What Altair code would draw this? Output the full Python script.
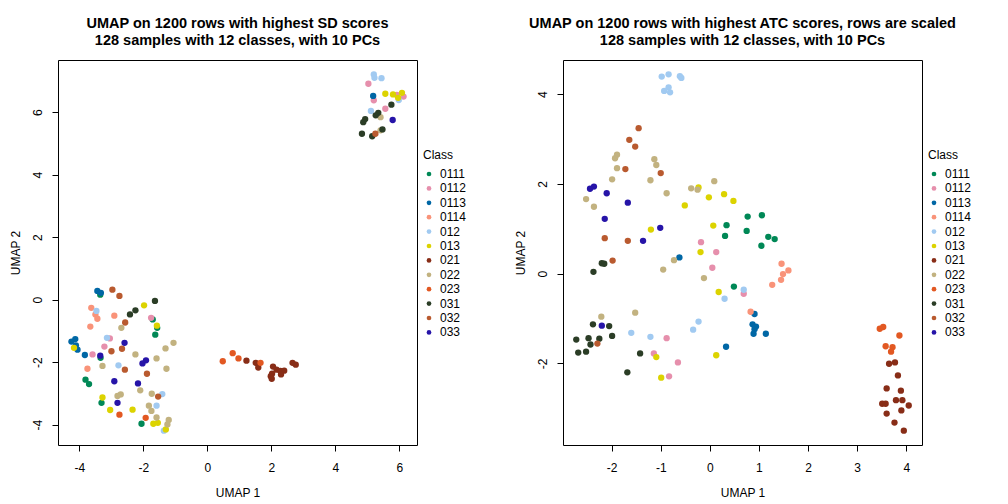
import altair as alt
import pandas as pd

CLASSES = ["0111", "0112", "0113", "0114", "012", "013", "021", "022", "023", "031", "032", "033"]
COLORS = ["#008856", "#E68FAC", "#0067A5", "#F99379", "#A1CAF1", "#DCD300",
          "#882D17", "#C2B280", "#E25822", "#2B3D26", "#B95A2F", "#2614A8"]

# UMAP on SD rows (left panel): class -> list of (UMAP1, UMAP2)
SD_POINTS = {
    "0111": [(-3.35, 0.16), (-1.71, -0.63), (-1.57, -0.90), (-1.63, -1.12), (-3.34, -1.86),
             (-3.81, -2.56), (-3.70, -2.70), (-3.31, -3.30), (-2.06, -3.97)],
    "0112": [(-1.76, -0.58), (-3.05, -1.24), (-3.22, -1.50), (-3.59, -1.75), (5.03, 6.91),
             (5.20, 6.38), (5.92, 6.55), (6.13, 6.50), (5.56, 6.11)],
    "0113": [(-3.44, 0.28), (-3.33, 0.22), (-4.25, -1.34), (-4.13, -1.26), (-4.11, -1.46),
             (-4.06, -1.60), (-3.83, -1.77), (5.18, 6.52)],
    "0114": [(-3.63, -0.26), (-3.50, -0.47), (-3.44, -0.61), (-2.91, -0.51), (-3.66, -0.86),
             (-3.75, -2.21)],
    "012": [(-3.47, -0.36), (-3.14, -1.22), (-2.78, -2.10), (-1.41, -3.02), (-1.59, -3.39),
            (-1.36, -4.19), (5.20, 7.21), (5.22, 7.10), (5.44, 7.09), (5.98, 6.39), (5.11, 6.04)],
    "013": [(-1.98, -0.18), (-1.58, -0.83), (-4.17, -1.54), (-3.28, -3.13), (-3.04, -3.53),
            (-2.34, -3.52), (-1.69, -3.97), (-1.55, -3.94), (-1.30, -4.15), (5.56, 6.59),
            (5.80, 6.57), (5.96, 6.46), (6.08, 6.62)],
    "021": [(1.22, -1.95), (1.51, -2.02), (1.59, -2.17), (2.05, -2.14), (2.16, -2.24),
            (2.28, -2.28), (2.40, -2.27), (2.30, -2.39), (2.02, -2.37), (2.01, -2.53),
            (2.66, -2.02), (2.76, -2.08), (1.98, -2.45)],
    "022": [(-2.69, -0.90), (-1.06, -1.38), (-1.31, -1.56), (-2.25, -1.75), (-1.59, -1.88),
            (-3.28, -2.12), (-1.28, -2.21), (-2.10, -2.90), (-1.74, -3.01), (-2.81, -3.08),
            (-2.71, -3.03), (-1.83, -3.39), (-1.75, -3.56), (-1.59, -3.77), (-1.21, -3.85),
            (-1.25, -3.99), (5.41, 5.84), (5.41, 5.42)],
    "023": [(-2.75, -3.68), (-1.93, -3.78), (0.48, -1.97), (0.79, -1.71), (0.97, -1.88),
            (1.66, -2.02)],
    "031": [(-1.64, -0.04), (-2.25, -0.34), (-2.42, -0.47), (5.75, 6.24), (5.34, 5.98),
            (5.26, 5.90), (4.93, 5.78), (4.87, 5.68), (5.47, 5.45), (4.83, 5.31), (5.15, 5.23)],
    "032": [(-2.97, 0.32), (-2.75, 0.12), (-2.57, -0.73), (-2.67, -1.57), (-3.00, -1.65),
            (-2.58, -2.24), (-1.89, -2.37), (-1.54, -3.10), (5.25, 5.31)],
    "033": [(-2.59, -1.38), (-3.35, -1.79), (-1.92, -1.94), (-2.03, -2.04), (-2.91, -2.61),
            (-2.17, -2.68), (-2.81, -3.30), (5.79, 5.75)],
}

# UMAP on ATC rows, scaled (right panel)
ATC_POINTS = {
    "0111": [(0.34, 1.08), (0.31, 0.84), (0.77, 1.27), (1.06, 1.30), (0.75, 0.95),
             (1.19, 0.82), (1.32, 0.77), (1.05, 0.62), (0.49, -0.29)],
    "0112": [(-0.18, 0.70), (0.13, 0.48), (0.05, 0.13), (0.69, -0.45), (-0.88, -1.44),
             (-1.14, -1.78), (-0.65, -1.98), (-0.83, -2.29)],
    "0113": [(-0.62, 0.36), (0.91, -0.90), (0.87, -1.13), (0.94, -1.18), (0.91, -1.24),
             (0.89, -1.34), (1.14, -1.34), (0.33, -1.63)],
    "0114": [(1.46, 0.22), (1.49, -0.01), (1.60, 0.07), (1.45, -0.14), (1.27, -0.25),
             (0.83, -0.85)],
    "012": [(-0.98, 4.39), (-0.84, 4.44), (-0.61, 4.40), (-0.58, 4.36), (-0.84, 4.15),
            (-0.93, 4.07), (-0.81, 4.04), (0.30, -0.56), (-0.23, -1.07), (-0.34, -1.25),
            (-1.60, -1.32), (-1.21, -1.41), (0.69, -0.36)],
    "013": [(-0.23, 1.92), (-0.02, 1.70), (-0.51, 1.52), (0.07, 1.07), (-1.20, 0.98),
            (0.29, 1.77), (0.48, 1.62), (-0.19, 0.48), (0.18, -0.41), (-1.09, -1.86),
            (0.13, -1.82), (-0.99, -2.32)],
    "021": [(3.65, -2.01), (3.77, -1.98), (3.83, -2.27), (3.60, -2.56), (3.89, -2.61),
            (3.51, -2.90), (3.58, -2.90), (3.79, -2.82), (3.92, -2.82), (4.05, -2.94),
            (3.90, -3.05), (3.60, -3.12), (3.76, -3.32), (3.95, -3.50)],
    "022": [(-1.89, 2.65), (-1.93, 2.57), (-1.13, 2.55), (-1.09, 2.42), (-1.89, 2.35),
            (-1.99, 2.10), (-1.21, 2.08), (-2.52, 1.66), (-2.36, 1.49), (-0.88, 1.79),
            (-0.38, 1.90), (-0.25, 1.87), (0.09, 2.06), (-0.73, 0.30), (-0.95, 0.09),
            (-0.12, -0.10), (-1.52, -0.87), (-2.21, -0.96)],
    "023": [(3.46, -1.23), (3.53, -1.19), (3.86, -1.38), (3.58, -1.62), (3.72, -1.64),
            (3.69, -1.74)],
    "031": [(-2.20, 0.23), (-2.15, 0.22), (-2.37, 0.04), (-2.38, -1.13), (-2.05, -1.17),
            (-1.99, -1.39), (-2.72, -1.47), (-2.47, -1.44), (-2.25, -1.45), (-2.43, -1.58),
            (-2.68, -1.76), (-2.52, -1.74), (-1.42, -1.78), (-1.68, -2.20)],
    "032": [(-1.45, 3.24), (-1.64, 2.98), (-1.52, 2.83), (-1.72, 2.33), (-1.00, 2.24),
            (-2.14, 0.79), (-1.67, 0.73), (-1.98, 0.29), (-2.29, -1.56)],
    "033": [(-2.36, 1.94), (-2.44, 1.89), (-2.10, 1.79), (-1.67, 1.58), (-2.14, 1.22),
            (-1.01, 1.02), (-1.36, 0.73), (-2.20, -1.16)],
}

SD_TITLE = ["UMAP on 1200 rows with highest SD scores", "128 samples with 12 classes, with 10 PCs"]
ATC_TITLE = ["UMAP on 1200 rows with highest ATC scores, rows are scaled",
             "128 samples with 12 classes, with 10 PCs"]

SD_XDOM, SD_YDOM = [-4.67, 6.55], [-4.65, 7.67]
ATC_XDOM, ATC_YDOM = [-2.99, 4.32], [-3.82, 4.76]
SD_XTICKS, SD_YTICKS = [-4, -2, 0, 2, 4, 6], [-4, -2, 0, 2, 4, 6]
ATC_XTICKS, ATC_YTICKS = [-2, -1, 0, 1, 2, 3, 4], [-2, 0, 2, 4]

FONT = "Liberation Sans"


def to_df(points):
    rows = []
    for cls, pts in points.items():
        for x, y in pts:
            rows.append({"x": x, "y": y, "Class": cls})
    return pd.DataFrame(rows)


def panel(points, title, xdom, ydom, xticks, yticks):
    return alt.Chart(to_df(points)).mark_circle(size=40, opacity=1).encode(
        x=alt.X("x:Q", scale=alt.Scale(domain=xdom, nice=False, zero=False),
                axis=alt.Axis(values=xticks, title="UMAP 1", labelExpr="'' + datum.value",
                              labelPadding=11, titlePadding=14)),
        y=alt.Y("y:Q", scale=alt.Scale(domain=ydom, nice=False, zero=False),
                axis=alt.Axis(values=yticks, title="UMAP 2", labelExpr="'' + datum.value",
                              labelAngle=-90, labelAlign="center", labelBaseline="bottom",
                              labelPadding=8, titlePadding=9)),
        color=alt.Color("Class:N", scale=alt.Scale(domain=CLASSES, range=COLORS),
                        legend=alt.Legend(title="Class", orient="none", legendX=365, legendY=90,
                                          symbolType="circle", symbolSize=22, symbolStrokeWidth=0,
                                          labelFontSize=12, titleFontSize=12, titleFontWeight="normal",
                                          labelFont=FONT, titleFont=FONT, labelColor="#000",
                                          titleColor="#000", labelOffset=5, rowPadding=2.4,
                                          titlePadding=6)),
    ).properties(
        width=359, height=385,
        title=alt.TitleParams(text=title, fontSize=14.5, fontWeight="bold", font=FONT,
                              anchor="middle", frame="group", offset=12, lineHeight=17,
                              color="#000"),
    )


left = panel(SD_POINTS, SD_TITLE, SD_XDOM, SD_YDOM, SD_XTICKS, SD_YTICKS)
right = panel(ATC_POINTS, ATC_TITLE, ATC_XDOM, ATC_YDOM, ATC_XTICKS, ATC_YTICKS)

chart = alt.hconcat(left, right, spacing=146, bounds="flush").resolve_scale(
    color="independent").resolve_legend(color="independent").configure_view(
    stroke="#000", strokeWidth=1).configure_axis(
    domain=False, grid=False, tickColor="#000", tickSize=6, labelColor="#000",
    titleColor="#000", labelFont=FONT, titleFont=FONT, labelFontSize=12,
    titleFontSize=12, titleFontWeight="normal", labelFlush=False, labelOverlap=False
).properties(background="white", padding={"left": 0, "top": 7, "right": 5, "bottom": 5})

chart.save("out.html", embed_options={"renderer": "svg", "actions": False})
